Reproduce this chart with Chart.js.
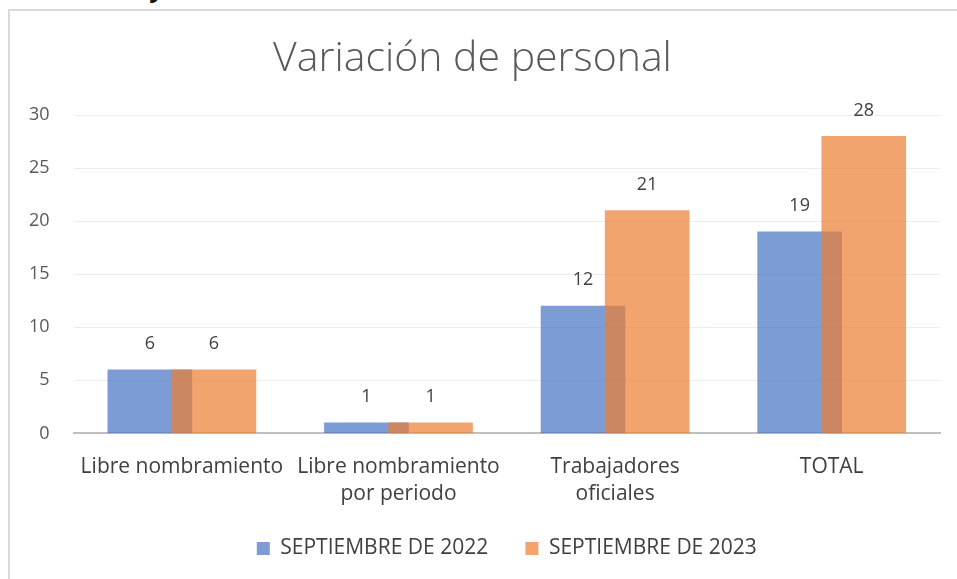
<!DOCTYPE html>
<html>
<head>
<meta charset="utf-8">
<script src="https://cdn.jsdelivr.net/npm/chart.js@4.4.0/dist/chart.umd.min.js"></script>
<style>
  body { margin: 0; background: #fff; overflow: hidden; }
  #wrap { position: relative; width: 957px; height: 579px; }
  #frame { position: absolute; left: 8px; top: 9px; right: -10px; bottom: -10px;
           border-left: 2px solid #d9d9d9; border-top: 2px solid #d9d9d9; }
  #cut { position: absolute; left: 152px; top: -31px; font: italic bold 26px "Open Sans"; color: #111; }
  canvas { position: absolute; left: 0; top: 0; }
</style>
</head>
<body>
<div id="wrap">
  <div id="cut">y</div>
  <div id="frame"></div>
  <canvas id="myChart" width="957" height="579"></canvas>
</div>
<script>
// datos
var categories = [['Libre nombramiento'], ['Libre nombramiento', 'por periodo'], ['Trabajadores', 'oficiales'], ['TOTAL']];
var sep2022 = [6, 1, 12, 19];
var sep2023 = [6, 1, 21, 28];
var seriesNames = ['SEPTIEMBRE DE 2022', 'SEPTIEMBRE DE 2023'];
var yTicks = [0, 5, 10, 15, 20, 25, 30];

// bars overlap a bit, so put them on a linear x scale
var shift = 0.148;
function points(values, dx) {
    return values.map(function (v, i) { return { x: i + dx, y: v }; });
}

// etiquetas de datos
var dataLabels = {
    id: 'dataLabels',
    afterDatasetsDraw: function (chart) {
        var c = chart.ctx;
        c.save();
        c.font = '18px "Open Sans"';
        c.fillStyle = '#404040';
        c.textAlign = 'center';
        c.textBaseline = 'middle';
        chart.data.datasets.forEach(function (ds, di) {
            chart.getDatasetMeta(di).data.forEach(function (bar, i) {
                c.fillText(ds.data[i].y, bar.x, bar.y - 26);
            });
        });
        c.restore();
    }
};

var ctx = document.getElementById('myChart').getContext('2d');
var myChart = new Chart(ctx, {
    type: 'bar',
    data: {
        datasets: [{
            label: seriesNames[0],
            data: points(sep2022, -shift),
            backgroundColor: 'rgba(68, 114, 196, 0.7)',
            order: 1
        }, {
            label: seriesNames[1],
            data: points(sep2023, shift),
            backgroundColor: 'rgba(237, 125, 49, 0.7)',
            order: 0
        }]
    },
    options: {
        responsive: false,
        animation: false,
        grouped: false,
        barThickness: 84,
        layout: { padding: { left: 5, right: 17, top: 35, bottom: 10 } },
        plugins: {
            title: {
                display: true,
                text: 'Variación de personal',
                color: '#595959',
                font: { family: 'Open Sans', size: 41, weight: '300' },
                padding: { top: 0, bottom: 31 }
            },
            legend: {
                position: 'bottom',
                fullSize: false,
                labels: {
                    color: '#404040',
                    font: { family: 'Open Sans', size: 21 },
                    boxWidth: 13,
                    boxHeight: 13,
                    padding: 10,
                    // keep series order, wider gap between the two items
                    generateLabels: function (chart) {
                        var items = Chart.defaults.plugins.legend.labels.generateLabels(chart);
                        items.sort(function (a, b) { return a.datasetIndex - b.datasetIndex; });
                        items[0].text += '     ';
                        return items;
                    }
                }
            },
            tooltip: { enabled: false }
        },
        scales: {
            x: {
                type: 'linear',
                min: -0.5,
                max: 3.5,
                offset: false,
                afterBuildTicks: function (scale) {
                    scale.ticks = categories.map(function (c, i) { return { value: i }; });
                },
                ticks: {
                    color: '#404040',
                    font: { family: 'Open Sans', size: 21, lineHeight: 1.3 },
                    padding: 20,
                    maxRotation: 0,
                    autoSkip: false,
                    callback: function (v) { return categories[v]; }
                },
                grid: { display: false, drawTicks: false },
                border: { color: '#bfbfbf', width: 2 }
            },
            y: {
                min: 0,
                max: 30,
                afterBuildTicks: function (scale) {
                    scale.ticks = yTicks.map(function (v) { return { value: v }; });
                },
                ticks: {
                    color: '#595959',
                    font: { family: 'Open Sans', size: 18 },
                    padding: 24
                },
                grid: { color: '#ececec', lineWidth: 1, drawTicks: false },
                border: { display: false }
            }
        }
    },
    plugins: [dataLabels]
});
</script>
</body>
</html>
